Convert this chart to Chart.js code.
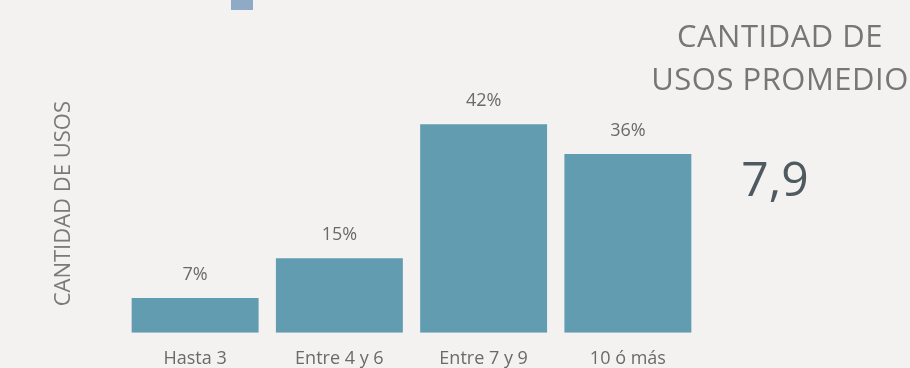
<!DOCTYPE html>
<html>
<head>
<meta charset="utf-8">
<script src="https://cdn.jsdelivr.net/npm/chart.js@4.4.0/dist/chart.umd.min.js"></script>
<style>
  body { margin: 0; background: #f3f2f0; font-family: "Open Sans", sans-serif; }
  #wrap { position: relative; width: 910px; height: 368px; overflow: hidden; }
  #usos-chart { position: absolute; left: 0; top: 0; }
  .swatch { position: absolute; left: 231px; top: -12px; width: 22px; height: 22px; background: #8faac6; }
  .promedio-title { position: absolute; left: 630px; width: 300px; top: 14px; text-align: center;
    font-size: 31px; line-height: 43px; color: #767676; letter-spacing: 0.5px; }
  .promedio-value { position: absolute; left: 700px; width: 150px; top: 146px; text-align: center;
    font-size: 48px; line-height: 64px; color: #4e5a60; }
</style>
</head>
<body>
<div id="wrap">
  <!-- canvas a bit taller than the wrapper so the axis labels sit near the bottom edge -->
  <canvas id="usos-chart" width="910" height="388"></canvas>
  <div class="swatch"></div>
  <div class="promedio-title">CANTIDAD DE<br>USOS PROMEDIO</div>
  <div class="promedio-value">7,9</div>
</div>
<script>
// Distribución de la cantidad de usos
const categories = ['Hasta 3', 'Entre 4 y 6', 'Entre 7 y 9', '10 ó más'];
const percentages = [7, 15, 42, 36];

const barColor = '#619cb0';
const textColor = '#6a6a6a';

// Etiqueta de porcentaje encima de cada barra
const valueLabels = {
    id: 'valueLabels',
    afterDatasetsDraw(chart) {
        const ctx = chart.ctx;
        const meta = chart.getDatasetMeta(0);
        ctx.save();
        ctx.font = '18px "Open Sans", sans-serif';
        ctx.fillStyle = textColor;
        ctx.textAlign = 'center';
        ctx.textBaseline = 'middle';
        meta.data.forEach((bar, i) => {
            ctx.fillText(percentages[i] + '%', bar.x, bar.y - 23);
        });
        ctx.restore();
    }
};

function initializeUsosChart() {
    const canvas = document.getElementById('usos-chart');
    const ctx = canvas.getContext('2d');

    new Chart(ctx, {
        type: 'bar',
        data: {
            labels: categories,
            datasets: [{
                data: percentages,
                backgroundColor: barColor,
                borderWidth: 0,
                categoryPercentage: 1,
                barPercentage: 0.88
            }]
        },
        options: {
            responsive: false,
            animation: false,
            layout: {
                padding: { left: 0, right: 210, top: 74.6, bottom: 3.6 }
            },
            plugins: {
                legend: { display: false },
                tooltip: { enabled: false }
            },
            scales: {
                x: {
                    grid: { display: false, drawTicks: false },
                    border: { display: false },
                    ticks: {
                        color: textColor,
                        padding: 15,
                        font: { family: '"Open Sans", sans-serif', size: 18 }
                    }
                },
                y: {
                    min: 0,
                    max: 52,
                    grid: { display: false, drawTicks: false },
                    border: { display: false },
                    ticks: { display: false },
                    title: {
                        display: true,
                        text: 'CANTIDAD DE USOS',
                        color: '#7a7a7a',
                        padding: { top: 51, bottom: 45.6 },
                        font: { family: '"Open Sans", sans-serif', size: 22 }
                    }
                }
            }
        },
        plugins: [valueLabels]
    });
}

initializeUsosChart();
</script>
</body>
</html>
